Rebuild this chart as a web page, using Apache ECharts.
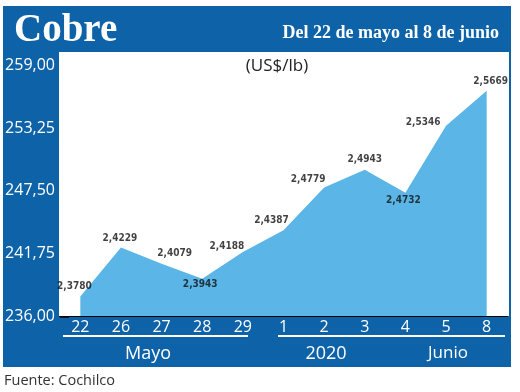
<!DOCTYPE html>
<html>
<head>
<meta charset="utf-8">
<script src="https://cdn.jsdelivr.net/npm/echarts@6/dist/echarts.min.js"></script>
<style>
html,body{margin:0;padding:0;background:#fff;}
#c{width:520px;height:392px;}
</style>
</head>
<body>
<div id="c"></div>
<script>
// ---- data ----
const categories = ['22','26','27','28','29','1','2','3','4','5','8'];
const values = [237.80, 242.29, 240.79, 239.43, 241.88, 243.87, 247.79, 249.43, 247.32, 253.46, 256.69];
const yTicks = [236.00, 241.75, 247.50, 253.25, 259.00];
const groupLabels = ['Mayo', '2020', 'Junio'];

// ---- label placement (style only) ----
const labelPlacement = [
  {position:'top', offset:[-6,1]},
  {position:'top', offset:[-1,1]},
  {position:'top', offset:[13,0]},
  {position:'bottom', offset:[-2,-5]},
  {position:'top', offset:[-16,5]},
  {position:'top', offset:[-12,1]},
  {position:'top', offset:[-16,2]},
  {position:'top', offset:[0,0]},
  {position:'bottom', offset:[-2,-3]},
  {position:'left', offset:[0,-3]},
  {position:'top', offset:[4,1]}
];

const BLUE = '#0d62a8';
const AREA = '#5bb5e6';
const fmt2 = v => v.toFixed(2).replace('.', ',');
const fmtLabel = v => (v / 100).toFixed(4).replace('.', ',');

const chart = echarts.init(document.getElementById('c'), null, {renderer:'canvas'});
chart.setOption({
  animation: false,
  backgroundColor: '#ffffff',
  graphic: [
    {type:'rect', z:0, shape:{x:3, y:6, width:508, height:361}, style:{fill:BLUE}},
    {type:'rect', z:1, shape:{x:59, y:52, width:450, height:264}, style:{fill:'#ffffff'}},
    {type:'line', z:1, shape:{x1:63, y1:336, x2:248, y2:336}, style:{stroke:'#ffffff', lineWidth:2}},
    {type:'line', z:1, shape:{x1:278, y1:336, x2:505, y2:336}, style:{stroke:'#ffffff', lineWidth:2}},
    {type:'text', z:1, x:14, y:31, style:{text:'Cobre', fill:'#ffffff', font:'bold 39px "Liberation Serif", serif', textVerticalAlign:'middle', textAlign:'left'}},
    {type:'text', z:1, x:499, y:33, style:{text:'Del 22 de mayo al 8 de junio', fill:'#ffffff', font:'bold 18px "Liberation Serif", serif', textVerticalAlign:'middle', textAlign:'right'}},
    {type:'text', z:1, x:277, y:66, style:{text:'(US$/lb)', fill:'#222222', font:'17px "Open Sans", sans-serif', textVerticalAlign:'middle', textAlign:'center'}},
    {type:'text', z:1, x:148, y:354, style:{text:groupLabels[0], fill:'#ffffff', font:'18px "Open Sans", sans-serif', textVerticalAlign:'middle', textAlign:'center'}},
    {type:'text', z:1, x:326, y:354, style:{text:groupLabels[1], fill:'#ffffff', font:'18px "Open Sans", sans-serif', textVerticalAlign:'middle', textAlign:'center'}},
    {type:'text', z:1, x:448, y:353, style:{text:groupLabels[2], fill:'#ffffff', font:'17px "Open Sans", sans-serif', textVerticalAlign:'middle', textAlign:'center'}},
    {type:'text', z:1, x:4, y:381, style:{text:'Fuente: Cochilco', fill:'#333333', font:'14.5px "Open Sans", sans-serif', textVerticalAlign:'middle', textAlign:'left'}}
  ],
  grid: {left:60, right:13, top:65.5, bottom:76, containLabel:false},
  xAxis: {
    type:'category',
    data: categories,
    boundaryGap: true,
    axisLine: {show:true, lineStyle:{color:'#000000', width:2}},
    axisTick: {show:false},
    axisLabel: {color:'#ffffff', fontSize:16, fontFamily:'"Open Sans", sans-serif', margin:3},
    splitLine: {show:false}
  },
  yAxis: {
    type:'value',
    min: yTicks[0],
    max: yTicks[yTicks.length-1],
    interval: yTicks[1] - yTicks[0],
    axisLine: {show:true, lineStyle:{color:'#000000', width:2.5}},
    axisTick: {show:true, inside:true, length:9, lineStyle:{color:'#000000', width:2.5}},
    axisLabel: {color:'#ffffff', fontSize:16, fontFamily:'"Open Sans", sans-serif', margin:5, formatter: fmt2},
    splitLine: {show:false}
  },
  series: [{
    type:'line',
    data: values,
    symbol:'none',
    smooth:false,
    lineStyle:{width:0, color:AREA},
    areaStyle:{color:AREA, opacity:1, origin:'start'},
    z:3
  }, {
    type:'scatter',
    data: values.map((v, i) => ({
      value: v,
      label: {position: labelPlacement[i].position, offset: labelPlacement[i].offset}
    })),
    symbolSize: 1,
    itemStyle:{color:'rgba(0,0,0,0)'},
    label:{
      show:true,
      color:'#111111',
      fontSize:10,
      fontWeight:'bold',
      fontFamily:'"Liberation Sans Narrow", "DejaVu Sans Condensed", sans-serif',
      distance:5,
      formatter: p => fmtLabel(p.value)
    },
    z:4
  }]
});
</script>
</body>
</html>
